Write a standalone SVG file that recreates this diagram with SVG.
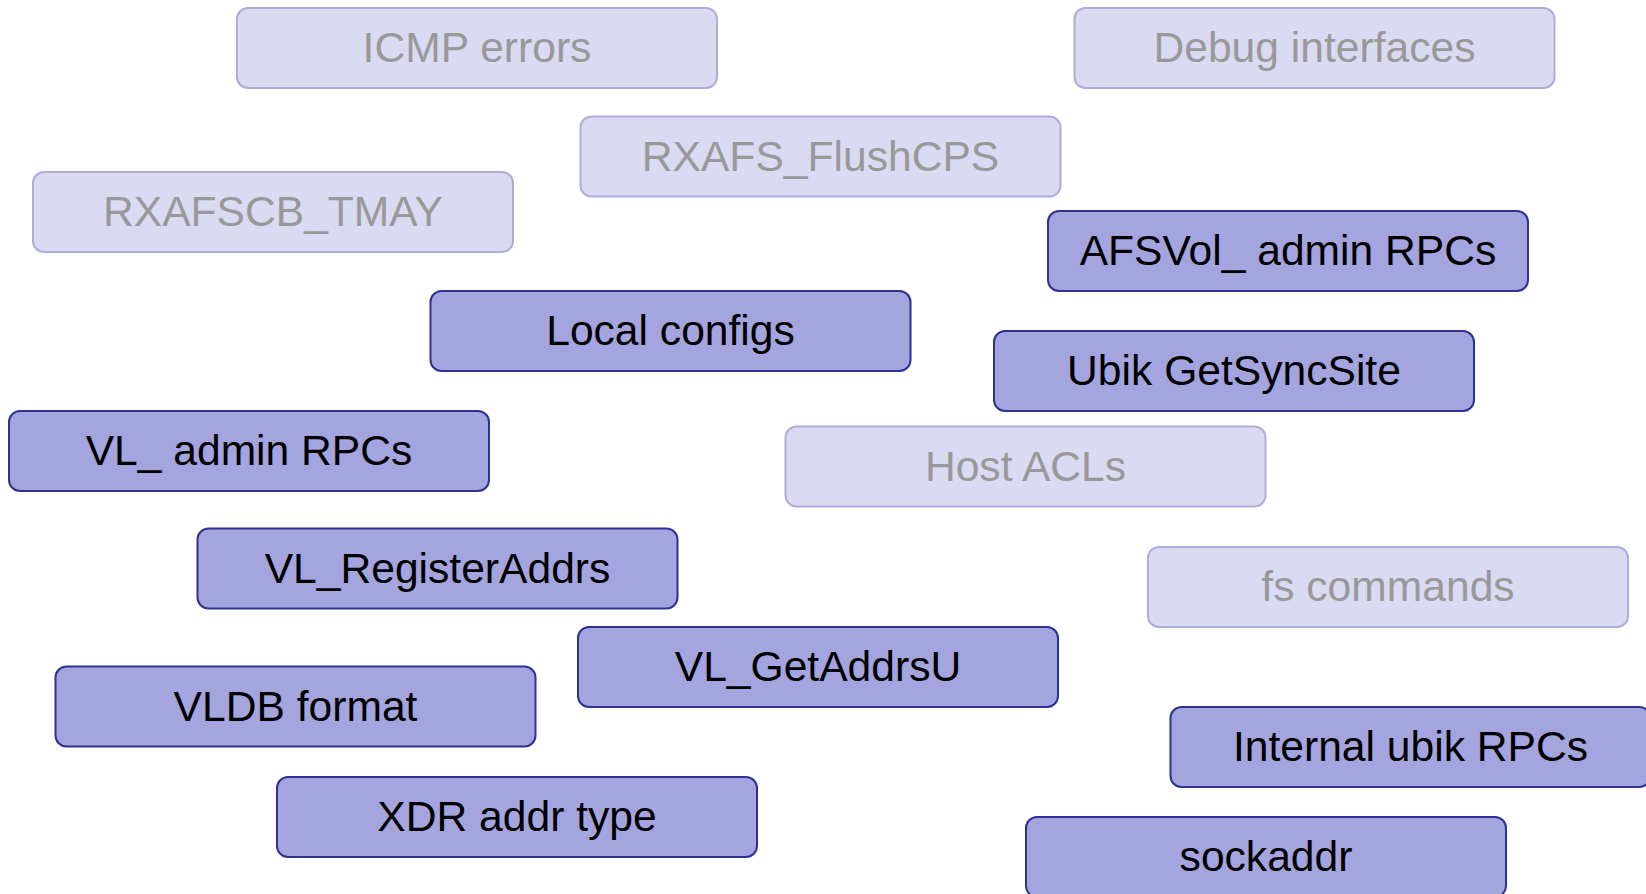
<svg xmlns="http://www.w3.org/2000/svg" width="1646" height="894" viewBox="0 0 1646 894">
<style>
.dk rect{fill:#A4A4DF;stroke:#2E3192;stroke-width:2}
.lt rect{fill:#DADAF2;stroke:#ADADDA;stroke-width:2}
text{font-family:"Liberation Sans",Arial,sans-serif;font-size:42.6px;text-anchor:middle}
.dk text{fill:#000000}
.lt text{fill:#999999}
</style>
<rect width="1646" height="894" fill="#FFFFFF"/>
<g id="connectors"></g>
<g id="icmp-errors" class="lt"><rect x="237" y="8" width="480" height="80" rx="11"/><text x="477" y="62">ICMP errors</text></g>
<g id="debug-interfaces" class="lt"><rect x="1074.5" y="8" width="480" height="80" rx="11"/><text x="1314.5" y="62">Debug interfaces</text></g>
<g id="rxafs-flushcps" class="lt"><rect x="580.5" y="116.5" width="480" height="80" rx="11"/><text x="820.5" y="170.5">RXAFS_FlushCPS</text></g>
<g id="rxafscb-tmay" class="lt"><rect x="33" y="172" width="480" height="80" rx="11"/><text x="273" y="226">RXAFSCB_TMAY</text></g>
<g id="afsvol-admin" class="dk"><rect x="1048" y="211" width="480" height="80" rx="11"/><text x="1288" y="265">AFSVol_ admin RPCs</text></g>
<g id="local-configs" class="dk"><rect x="430.5" y="291" width="480" height="80" rx="11"/><text x="670.5" y="345">Local configs</text></g>
<g id="ubik-getsyncsite" class="dk"><rect x="994" y="331" width="480" height="80" rx="11"/><text x="1234" y="385">Ubik GetSyncSite</text></g>
<g id="vl-admin" class="dk"><rect x="9" y="411" width="480" height="80" rx="11"/><text x="249" y="465">VL_ admin RPCs</text></g>
<g id="host-acls" class="lt"><rect x="785.5" y="426.5" width="480" height="80" rx="11"/><text x="1025.5" y="480.5">Host ACLs</text></g>
<g id="vl-registeraddrs" class="dk"><rect x="197.5" y="528.5" width="480" height="80" rx="11"/><text x="437.5" y="582.5">VL_RegisterAddrs</text></g>
<g id="fs-commands" class="lt"><rect x="1148" y="547" width="480" height="80" rx="11"/><text x="1388" y="601">fs commands</text></g>
<g id="vl-getaddrsu" class="dk"><rect x="578" y="627" width="480" height="80" rx="11"/><text x="818" y="681">VL_GetAddrsU</text></g>
<g id="vldb-format" class="dk"><rect x="55.5" y="666.5" width="480" height="80" rx="11"/><text x="295.5" y="720.5">VLDB format</text></g>
<g id="internal-ubik" class="dk"><rect x="1170.5" y="707" width="480" height="80" rx="11"/><text x="1410.5" y="761">Internal ubik RPCs</text></g>
<g id="xdr-addr-type" class="dk"><rect x="277" y="777" width="480" height="80" rx="11"/><text x="517" y="831">XDR addr type</text></g>
<g id="sockaddr" class="dk"><rect x="1026" y="817" width="480" height="80" rx="11"/><text x="1266" y="871">sockaddr</text></g>
</svg>
